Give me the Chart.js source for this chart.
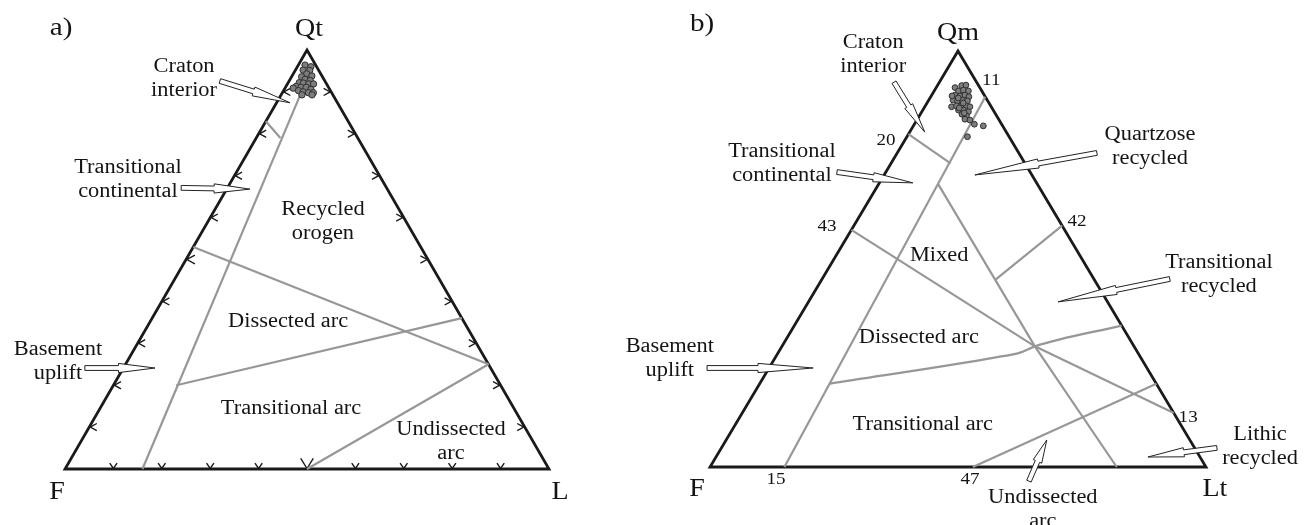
<!DOCTYPE html>
<html>
<head>
<meta charset="utf-8">
<script src="https://cdn.jsdelivr.net/npm/chart.js@4.4.1/dist/chart.umd.min.js"></script>
<style>
  html, body { margin: 0; padding: 0; background: #fff; }
  #wrap { position: relative; width: 1305px; height: 525px; overflow: hidden; }
  canvas { position: absolute; top: 0; }
  #chartA { left: 0; }
  #chartB { left: 600px; }
</style>
</head>
<body>
<div id="wrap">
  <canvas id="chartA" width="600" height="525"></canvas>
  <canvas id="chartB" width="705" height="525"></canvas>
</div>
<script>
// ---------- a) QtFL diagram: sample compositions (%) ----------
const qtA = [96.4, 96.0, 95.2, 95.1, 94.3, 93.8, 93.6, 93.0, 92.7, 92.2, 92.1, 91.9, 91.9, 91.3, 91.1, 91.1, 90.6, 90.9, 90.3, 90.0, 89.8, 89.8, 89.3, 89.3];
const fA  = [ 2.2,  1.2,  3.2,  1.9,  2.9,  2.1,  4.3,  3.9,  3.0,  5.5,  4.7,  3.7,  2.7,  6.6,  5.7,  4.6,  3.9,  7.4,  6.6,  5.8,  4.8,  3.8,  6.4,  4.3];
const lA  = [ 1.4,  2.8,  1.6,  3.0,  2.8,  4.1,  2.1,  3.1,  4.3,  2.3,  3.2,  4.4,  5.4,  2.1,  3.2,  4.3,  5.5,  1.7,  3.1,  4.2,  5.4,  6.4,  4.3,  6.4];

// QtFL field boundaries, as [Qt, F, L] compositions
const boundA_main        = [[0, 84, 16], [89, 7, 4]];
const boundA_craton      = [[83, 17, 0], [79, 16, 5]];
const boundA_recycled    = [[53, 47, 0], [25, 0, 75]];
const boundA_dissected   = [[20, 67, 13], [36, 0, 64]];
const boundA_undissected = [[0, 50, 50], [25, 0, 75]];

// edge tick levels (%)
const tickLevels = [10, 20, 30, 40, 50, 60, 70, 80, 90];

// ---------- b) QmFLt diagram: sample compositions (%) ----------
const qmB = [91.2, 91.7, 91.8, 90.4, 90.6, 90.4, 89.4, 89.2, 89.4, 89.0, 88.2, 88.0, 88.2, 88.0, 86.6, 86.8, 87.0, 86.8, 86.6, 85.8, 85.8, 85.4, 84.8, 84.4, 83.6, 83.4, 82.4, 82.0, 79.4, 88.7, 87.5, 86.3, 85.1, 89.2];
const fB  = [ 5.0,  3.4,  2.5,  4.7,  3.6,  2.7,  5.9,  5.0,  3.9,  3.3,  6.9,  6.1,  5.0,  4.1,  8.0,  6.9,  5.7,  4.9,  4.3,  7.0,  6.0,  5.2,  6.8,  6.1,  6.8,  5.9,  5.5,  3.9,  8.4,  5.6,  5.2,  6.6,  6.2,  6.6];
const ltB = [ 3.8,  4.9,  5.7,  4.9,  5.8,  6.9,  4.7,  5.8,  6.7,  7.7,  4.9,  5.9,  6.8,  7.9,  5.4,  6.3,  7.3,  8.3,  9.1,  7.2,  8.2,  9.4,  8.4,  9.5,  9.6, 10.7, 12.1, 14.1, 12.2,  5.7,  7.3,  7.1,  8.7,  4.2];

// QmFLt field boundaries, as [Qm, F, Lt] compositions
const boundB_main        = [[0, 85, 15], [89, 0, 11]];
const boundB_craton      = [[80, 20, 0], [73, 15, 12]];
const boundB_mixed       = [[57, 43, 0], [29, 20, 51], [13, 0, 87]];
const boundB_feldspar    = [[68, 20, 12], [29, 20, 51], [0, 18, 82]];
const boundB_recycled    = [[58, 0, 42], [45, 20, 35]];
const boundB_dissected   = [[20, 66, 14], [26.4, 28.9, 44.7], [27.5, 23.75, 48.75], [29, 20, 51], [34, 0, 66]];
const boundB_undissected = [[0, 47, 53], [20, 0, 80]];

// ---------- ternary -> plane (x: 0..100 along base, y: apex component) ----------
function toXY(q, f, l) {
  const s = q + f + l;
  const qq = q / s * 100, ll = l / s * 100;
  return { x: ll + qq / 2, y: qq };
}
const outline = [[0, 100, 0], [0, 0, 100], [100, 0, 0], [0, 100, 0], [0, 0, 100]];

const INK = '#1a1a1a';
const GREY = '#979797';

function lineSet(points, color, width, smooth) {
  return {
    data: points.map(p => toXY(p[0], p[1], p[2])),
    showLine: true, pointRadius: 0, borderColor: color, borderWidth: width,
    borderJoinStyle: 'miter', borderCapStyle: 'butt', fill: false, clip: false, order: 2,
    cubicInterpolationMode: smooth ? 'monotone' : 'default'
  };
}
function sampleSet(q, f, l, r) {
  return {
    data: q.map((v, i) => toXY(v, f[i], l[i])),
    showLine: false, pointRadius: r, pointHoverRadius: r,
    backgroundColor: '#7d7d7d', borderColor: '#2f2f2f', borderWidth: 1,
    clip: false, order: 0
  };
}

// ---------- annotations (plane coordinates) ----------
const labelsA = [
  { t: ['a)'], x: -0.8, y: 105.3, s: 26 },
  { t: ['Qt'], x: 50.4, y: 104.8, s: 25 },
  { t: ['Craton', 'interior'], x: 24.6, y: 95.9, s: 20 },
  { t: ['Transitional', 'continental'], x: 13.0, y: 71.8, s: 20 },
  { t: ['Recycled', 'orogen'], x: 53.3, y: 61.8, s: 20 },
  { t: ['Dissected arc'], x: 46.1, y: 35.1, s: 20 },
  { t: ['Transitional arc'], x: 46.7, y: 14.3, s: 20 },
  { t: ['Undissected', 'arc'], x: 79.75, y: 9.3, s: 20 },
  { t: ['Basement', 'uplift'], x: -1.45, y: 28.4, s: 20 },
  { t: ['F'], x: -1.65, y: -5.5, s: 25 },
  { t: ['L'], x: 102.3, y: -5.5, s: 25 }
];
const arrowsA = [
  [[32.0, 92.6], [46.5, 87.4]],
  [[24.0, 67.1], [38.2, 66.8]],
  [[4.1, 24.1], [18.6, 24.1]]
];
const labelsB = [
  { t: ['b)'], x: -1.6, y: 106.5, s: 26 },
  { t: ['Qm'], x: 50.0, y: 104.3, s: 25 },
  { t: ['Craton', 'interior'], x: 32.9, y: 101.9, s: 20 },
  { t: ['20'], x: 35.5, y: 78.4, s: 17 },
  { t: ['Transitional', 'continental'], x: 14.5, y: 75.7, s: 20 },
  { t: ['43'], x: 23.6, y: 57.7, s: 17 },
  { t: ['Mixed'], x: 46.2, y: 50.7, s: 20 },
  { t: ['Dissected arc'], x: 42.1, y: 31.0, s: 20 },
  { t: ['Transitional arc'], x: 42.9, y: 10.1, s: 20 },
  { t: ['Basement', 'uplift'], x: -8.1, y: 28.8, s: 20 },
  { t: ['15'], x: 13.3, y: -3.1, s: 17 },
  { t: ['F'], x: -2.6, y: -5.3, s: 25 },
  { t: ['47'], x: 52.4, y: -3.1, s: 17 },
  { t: ['Undissected', 'arc'], x: 67.1, y: -7.5, s: 20 },
  { t: ['Lt'], x: 101.8, y: -5.3, s: 25 },
  { t: ['Lithic', 'recycled'], x: 110.9, y: 7.7, s: 20 },
  { t: ['13'], x: 96.4, y: 11.8, s: 17 },
  { t: ['Transitional', 'recycled'], x: 102.6, y: 49.0, s: 20 },
  { t: ['42'], x: 74.0, y: 58.9, s: 17 },
  { t: ['Quartzose', 'recycled'], x: 88.7, y: 79.8, s: 20 },
  { t: ['11'], x: 56.7, y: 93.0, s: 17 }
];
const arrowsB = [
  [[37.1, 92.5], [43.3, 80.5]],
  [[25.6, 70.9], [40.9, 68.3]],
  [[-0.6, 23.8], [20.8, 23.8]],
  [[64.3, -3.4], [67.9, 6.5]],
  [[102.2, 4.6], [88.3, 2.4]],
  [[92.7, 45.2], [70.2, 39.7]],
  [[78.0, 75.5], [53.4, 70.2]]
];

// ---------- drawing helpers ----------
function drawText(ctx, str, px, py, size) {
  ctx.save();
  ctx.translate(px, py);
  ctx.scale(1.12, 1);
  ctx.font = size + 'px "Liberation Serif", "DejaVu Serif", serif';
  ctx.fillStyle = '#141414';
  ctx.textAlign = 'center';
  ctx.textBaseline = 'middle';
  ctx.fillText(str, 0, 0);
  ctx.restore();
}

function drawArrow(ctx, x0, y0, x1, y1) {
  const dx = x1 - x0, dy = y1 - y0;
  const len = Math.hypot(dx, dy);
  const ux = dx / len, uy = dy / len;
  const nx = -uy, ny = ux;
  const hw = 2.4, hh = 4.6;
  const hx = x1 - ux * len * 0.52, hy = y1 - uy * len * 0.52;
  ctx.save();
  ctx.beginPath();
  ctx.moveTo(x0 + nx * hw, y0 + ny * hw);
  ctx.lineTo(hx + nx * hw, hy + ny * hw);
  ctx.lineTo(hx + nx * hh, hy + ny * hh);
  ctx.lineTo(x1, y1);
  ctx.lineTo(hx - nx * hh, hy - ny * hh);
  ctx.lineTo(hx - nx * hw, hy - ny * hw);
  ctx.lineTo(x0 - nx * hw, y0 - ny * hw);
  ctx.closePath();
  ctx.fillStyle = '#fff';
  ctx.fill();
  ctx.lineWidth = 1;
  ctx.strokeStyle = '#222';
  ctx.lineJoin = 'miter';
  ctx.stroke();
  ctx.restore();
}

function chevron(ctx, vx, vy, dir, len, half) {
  ctx.beginPath();
  ctx.moveTo(vx + len * Math.cos(dir - half), vy + len * Math.sin(dir - half));
  ctx.lineTo(vx, vy);
  ctx.lineTo(vx + len * Math.cos(dir + half), vy + len * Math.sin(dir + half));
  ctx.stroke();
}

function annotationPlugin(labels, arrows, withTicks) {
  return {
    id: 'ternaryAnnotations',
    beforeDatasetsDraw(chart) {
      if (!withTicks) return;
      const { ctx, scales: { x, y } } = chart;
      const P = (q, f, l) => { const p = toXY(q, f, l); return [x.getPixelForValue(p.x), y.getPixelForValue(p.y)]; };
      ctx.save();
      ctx.strokeStyle = INK;
      ctx.lineWidth = 1.4;
      tickLevels.forEach(v => {
        const big = v === 50;
        const [bx, by] = P(0, 100 - v, v);
        chevron(ctx, bx, by - 0.5, -Math.PI / 2, big ? 12 : 6.5, big ? 0.55 : 0.6);
        const [lx, ly] = P(v, 100 - v, 0);
        chevron(ctx, lx + 1, ly, 0, big ? 9 : 7.5, 0.5);
        const [rx, ry] = P(v, 0, 100 - v);
        chevron(ctx, rx - 1, ry, Math.PI, 7.5, 0.5);
      });
      ctx.restore();
    },
    afterDatasetsDraw(chart) {
      const { ctx, scales: { x, y } } = chart;
      arrows.forEach(a => {
        drawArrow(ctx, x.getPixelForValue(a[0][0]), y.getPixelForValue(a[0][1]),
                       x.getPixelForValue(a[1][0]), y.getPixelForValue(a[1][1]));
      });
      labels.forEach(lb => {
        const px = x.getPixelForValue(lb.x), py = y.getPixelForValue(lb.y);
        lb.t.forEach((line, i) => drawText(ctx, line, px, py + i * 24, lb.s));
      });
    }
  };
}

function makeChart(id, padding, datasets, plugin) {
  return new Chart(document.getElementById(id), {
    type: 'scatter',
    data: { datasets },
    options: {
      responsive: false,
      devicePixelRatio: 1,
      animation: false,
      events: [],
      layout: { padding },
      scales: {
        x: { type: 'linear', min: 0, max: 100, display: false },
        y: { type: 'linear', min: 0, max: 100, display: false }
      },
      plugins: { legend: { display: false }, tooltip: { enabled: false } }
    },
    plugins: [plugin]
  });
}

makeChart('chartA', { left: 65, right: 51, top: 50, bottom: 56 }, [
  sampleSet(qtA, fA, lA, 3.2),
  lineSet(boundA_main, GREY, 2.2),
  lineSet(boundA_craton, GREY, 2.2),
  lineSet(boundA_recycled, GREY, 2.2),
  lineSet(boundA_dissected, GREY, 2.2),
  lineSet(boundA_undissected, GREY, 2.2),
  lineSet(outline, INK, 2.8)
], annotationPlugin(labelsA, arrowsA, true));

makeChart('chartB', { left: 110, right: 99, top: 51, bottom: 58 }, [
  sampleSet(qmB, fB, ltB, 2.9),
  lineSet(boundB_main, GREY, 2.2),
  lineSet(boundB_craton, GREY, 2.2),
  lineSet(boundB_mixed, GREY, 2.2),
  lineSet(boundB_feldspar, GREY, 2.2),
  lineSet(boundB_recycled, GREY, 2.2),
  lineSet(boundB_dissected, GREY, 2.2, true),
  lineSet(boundB_undissected, GREY, 2.2),
  lineSet(outline, INK, 2.8)
], annotationPlugin(labelsB, arrowsB, false));
</script>
</body>
</html>
